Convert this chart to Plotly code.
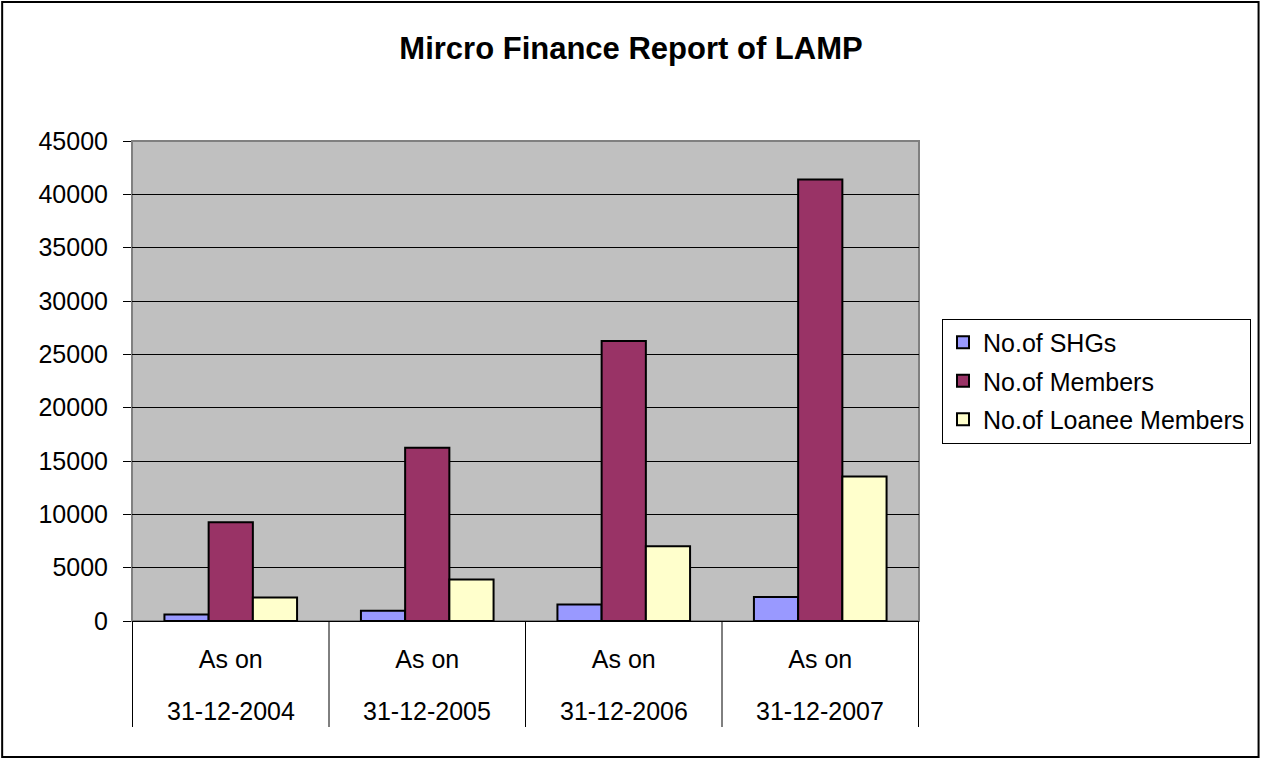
import plotly.graph_objects as go

categories = ["31-12-2004", "31-12-2005", "31-12-2006", "31-12-2007"]
category_prefix = "As on"
shgs = [600, 950, 1550, 2250]
members = [9250, 16250, 26250, 41400]
loanee = [2200, 3900, 7000, 13550]
series_names = ["No.of SHGs", "No.of Members", "No.of Loanee Members"]
colors = ["#9999FF", "#993366", "#FFFFCC"]
y_ticks = [0, 5000, 10000, 15000, 20000, 25000, 30000, 35000, 40000, 45000]

W, H = 1262, 759
L, R, T, B = 132, W - 920, 141, H - 621
FONT = "Liberation Sans, Arial, sans-serif"
FS = 25

fig = go.Figure()
for i, (name, vals, col) in enumerate(zip(series_names, [shgs, members, loanee], colors)):
    fig.add_trace(go.Bar(
        x=categories, y=vals, name=name, marker_color=col,
        marker_line_color="black", marker_line_width=2,
        legendgroup=str(i),
    ))

pw, ph = W - L - R, H - T - B
shapes = [
    dict(type="rect", xref="paper", yref="paper", x0=0, x1=1, y0=0, y1=1,
         line=dict(color="#808080", width=2), layer="below"),
    dict(type="rect", xref="paper", yref="paper",
         x0=-(L - 2) / pw, x1=1 + (R - 2) / pw,
         y0=-(B - 2) / ph, y1=1 + (T - 2) / ph,
         line=dict(color="black", width=2)),
]
for k in range(len(categories) + 1):
    shapes.append(dict(type="line", xref="x", yref="paper", x0=k - 0.5, x1=k - 0.5,
                       y0=0, y1=-106 / ph, line=dict(color="black", width=1)))

annotations = [
    dict(x=c, y=-(711 - 621) / ph, xref="x", yref="paper", text=c, showarrow=False,
         xanchor="center", yanchor="middle", font=dict(size=FS, family=FONT))
    for c in categories
]

fig.update_layout(
    width=W, height=H,
    margin=dict(l=L, r=R, t=T, b=B),
    paper_bgcolor="white", plot_bgcolor="#C0C0C0",
    font=dict(family=FONT, size=FS, color="black"),
    title=dict(text="<b>Mircro Finance Report of LAMP</b>", x=0.5, xref="container",
               y=1 - 48 / H, yref="container", yanchor="middle", xanchor="center",
               font=dict(size=31, family=FONT)),
    barmode="group", bargap=0.325, bargroupgap=0,
    showlegend=True,
    legend=dict(x=(942 - L) / pw, xanchor="left", y=0.5, yanchor="middle",
                bordercolor="black", borderwidth=1, bgcolor="white",
                font=dict(size=FS, family=FONT), tracegroupgap=3,
                traceorder="grouped"),
    shapes=shapes,
    annotations=annotations,
)
fig.update_xaxes(showgrid=False, ticks="", showline=True, linecolor="black", linewidth=1,
                 tickvals=categories, ticktext=[category_prefix] * len(categories),
                 ticklabelstandoff=16, tickfont=dict(size=FS))
fig.update_yaxes(range=[0, 45000], tickvals=y_ticks, tickformat="d",
                 showgrid=True, gridcolor="black", gridwidth=1,
                 ticks="outside", ticklen=8, tickcolor="black", showline=False,
                 zeroline=False, ticklabelstandoff=10, tickfont=dict(size=FS))

fig.write_html("out.html", config={"displayModeBar": False},
               post_script="document.body.style.margin='0';document.body.style.overflow='hidden';")
